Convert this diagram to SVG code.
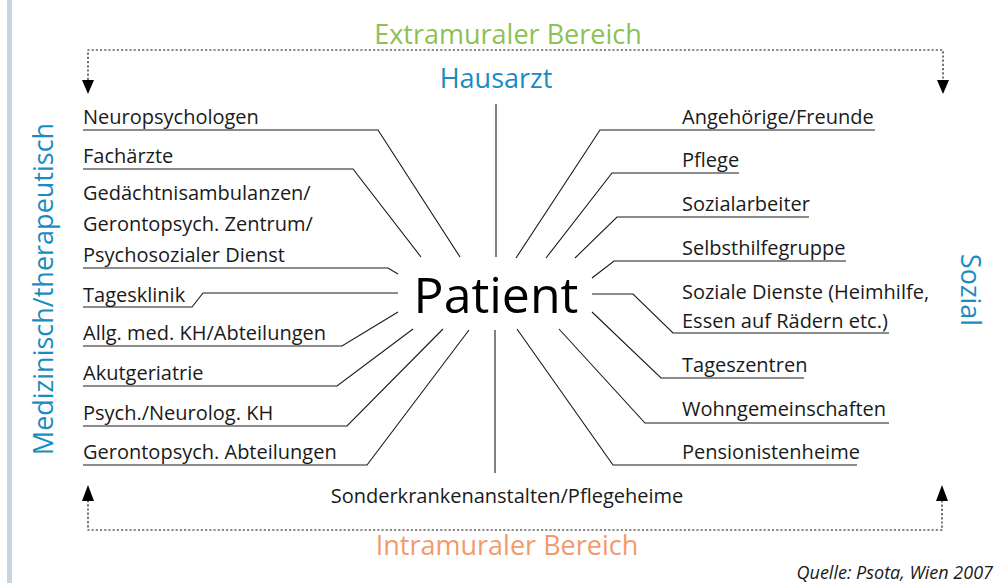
<svg xmlns="http://www.w3.org/2000/svg" width="995" height="583" viewBox="0 0 995 583">
<style>
.lbl{font-family:"Open Sans","Noto Sans",sans-serif;font-size:20px;fill:#1a1a1a}
.ttl{font-family:"Open Sans","Noto Sans",sans-serif;font-size:27px}
.ln{fill:none;stroke:#1a1a1a;stroke-width:1.1}
.dot{fill:none;stroke:#1a1a1a;stroke-width:1.2;stroke-dasharray:2.2 2}
</style>
<rect x="0" y="0" width="995" height="583" fill="#fff"/>
<rect x="7" y="0" width="5" height="583" fill="#c7d5df"/>
<g id="bereiche">
<text class="ttl" x="508" y="44" text-anchor="middle" fill="#8dc153">Extramuraler Bereich</text>
<text class="ttl" x="507" y="555" text-anchor="middle" fill="#f39a6c">Intramuraler Bereich</text>
<text class="ttl" x="496" y="88" text-anchor="middle" fill="#1a8cc0">Hausarzt</text>
<text class="ttl" transform="translate(53,289) rotate(-90)" text-anchor="middle" fill="#1a8cc0">Medizinisch/therapeutisch</text>
<text class="ttl" transform="translate(961,290) rotate(90)" text-anchor="middle" fill="#1a8cc0">Sozial</text>
<text x="993" y="579" text-anchor="end" font-family="'Open Sans','Noto Sans',sans-serif" font-style="italic" font-size="18" fill="#1a1a1a">Quelle: Psota, Wien 2007</text>
</g>
<g id="connectors">
<path class="dot" d="M88,80 V50 H943 V80"/>
<path d="M82,80 L94,80 L88,94 Z M937,80 L949,80 L943,94 Z" fill="#000"/>
<path class="dot" d="M88,500 V530 H942 V500"/>
<path d="M82,501 L94,501 L88,485 Z M936,501 L948,501 L942,485 Z" fill="#000"/>
<path class="ln" d="M496,104 V257 M495,330 V473"/>
<path class="ln" d="M83,130 H378 L460,257"/>
<path class="ln" d="M83,169 H353 L421,257"/>
<path class="ln" d="M83,268 H388 L398,274"/>
<path class="ln" d="M83,307 H192 L203,293 H398"/>
<path class="ln" d="M83,346 H342 L398,312"/>
<path class="ln" d="M83,386 H337 L413,329"/>
<path class="ln" d="M83,426 H347 L443,329"/>
<path class="ln" d="M83,465 H367 L469,330"/>
<path class="ln" d="M875,130 H600 L516,258"/>
<path class="ln" d="M739,173 H612 L546,258"/>
<path class="ln" d="M809,217 H617 L575,258"/>
<path class="ln" d="M846,261 H614 L592,278"/>
<path class="ln" d="M889,333 H673 L633,294 H592"/>
<path class="ln" d="M804,378 H661 L592,312"/>
<path class="ln" d="M889,423 H645 L559,329"/>
<path class="ln" d="M857,465 H613 L517,329"/>
</g>
<g id="patient">
<text x="496" y="313" text-anchor="middle" font-family="'Open Sans','Noto Sans',sans-serif" font-size="50" fill="#000">Patient</text>
</g>
<g id="sonder">
<text class="lbl" x="507" y="503" text-anchor="middle">Sonderkrankenanstalten/Pflegeheime</text>
</g>
<g id="links">
<text class="lbl" x="83" y="124">Neuropsychologen</text>
<text class="lbl" x="83" y="163">Fachärzte</text>
<text class="lbl" x="83" y="200">Gedächtnisambulanzen/</text>
<text class="lbl" x="83" y="231">Gerontopsych. Zentrum/</text>
<text class="lbl" x="83" y="262">Psychosozialer Dienst</text>
<text class="lbl" x="83" y="302">Tagesklinik</text>
<text class="lbl" x="83" y="340">Allg. med. KH/Abteilungen</text>
<text class="lbl" x="83" y="380">Akutgeriatrie</text>
<text class="lbl" x="83" y="420">Psych./Neurolog. KH</text>
<text class="lbl" x="83" y="459">Gerontopsych. Abteilungen</text>
</g>
<g id="rechts">
<text class="lbl" x="682" y="124">Angehörige/Freunde</text>
<text class="lbl" x="682" y="167">Pflege</text>
<text class="lbl" x="682" y="211">Sozialarbeiter</text>
<text class="lbl" x="682" y="255">Selbsthilfegruppe</text>
<text class="lbl" x="682" y="299">Soziale Dienste (Heimhilfe,</text>
<text class="lbl" x="682" y="328">Essen auf Rädern etc.)</text>
<text class="lbl" x="682" y="372">Tageszentren</text>
<text class="lbl" x="682" y="416">Wohngemeinschaften</text>
<text class="lbl" x="682" y="459">Pensionistenheime</text>
</g>
</svg>
